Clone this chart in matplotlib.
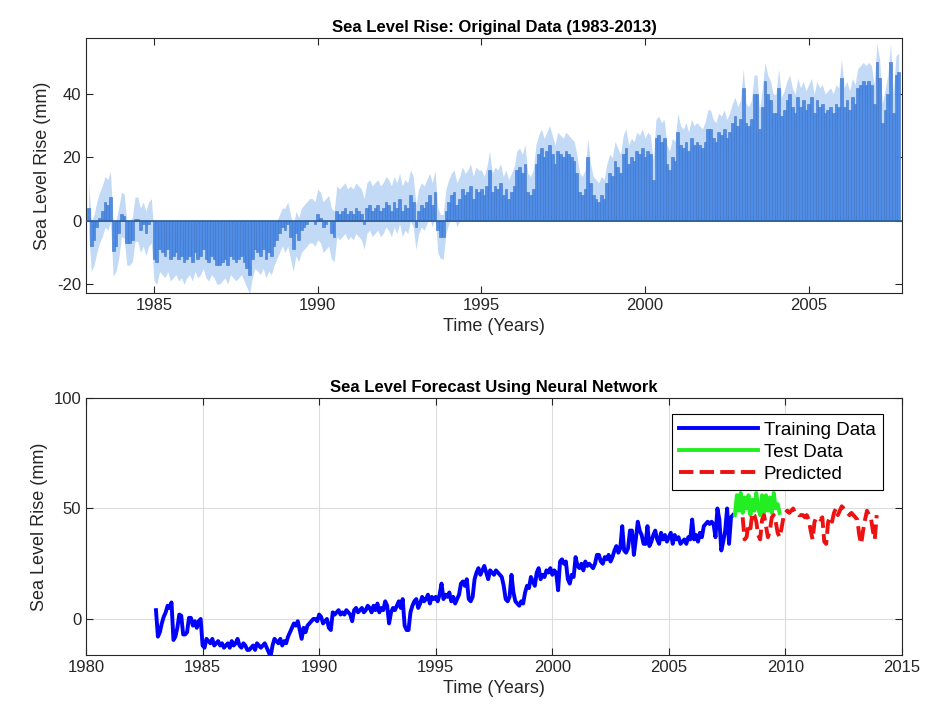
import numpy as np
import matplotlib
matplotlib.use('Agg')
import matplotlib.pyplot as plt

plt.rcParams['font.family'] = ['Liberation Sans', 'DejaVu Sans']
plt.rcParams['axes.unicode_minus'] = False

# monthly sea level (mm), Jan 1983 .. Oct 2007
sea_1983 = [4, -8, -6, -2, 1, 3, 6, 5, 7.5, -9.5, -8, -4]
sea_1984 = [2, 1.5, -7, -7, -6, 0.5, 0.5, -3, -1, -4, -1, 0]
sea_1985 = [-12, -13, -9, -10, -11, -9, -12, -11, -10, -12, -11, -13]
sea_1986 = [-12, -11, -13, -10, -12, -11, -9, -12, -13, -11, -12, -14]
sea_1987 = [-14, -13, -12, -14, -11, -12, -13, -12, -11, -13, -15, -17]
sea_1988 = [-12, -9, -10, -11, -9, -12, -10, -11, -8, -6, -4, -2]
sea_1989 = [-3, -1, -5, -9, -4, -6, -3, -2, -1, 0, 0, -1]
sea_1990 = [2, 1, -2, -1, 0, -4, -5, 3, 2, 3, 4, 2]
sea_1991 = [3, 2, 4, 3, 2, -1, 4, 5, 3, 4, 5, 3]
sea_1992 = [4, 6, 5, 3, 6, 4, 7, 3, 5, 4, 8, 6]
sea_1993 = [-2, 3, 5, 4, 6, 8, 5, 9, -3, -5, -5, 3]
sea_1994 = [6, 8, 9, 5, 7, 10, 8, 9, 11, 7, 10, 9]
sea_1995 = [10, 8, 11, 16, 9, 11, 10, 12, 8, 10, 7, 9]
sea_1996 = [11, 16, 17, 15, 18, 9, 8, 10, 18, 21, 23, 20]
sea_1997 = [22, 24, 21, 18, 22, 21, 20, 22, 21, 20, 19, 15]
sea_1998 = [9, 8, 10, 20, 12, 8, 7, 6, 8, 7, 12, 15]
sea_1999 = [14, 19, 17, 15, 21, 23, 18, 20, 19, 22, 21, 23]
sea_2000 = [20, 22, 21, 13, 26, 27, 25, 26, 18, 16, 20, 19]
sea_2001 = [28, 24, 23, 25, 22, 26, 24, 25, 24, 23, 25, 29]
sea_2002 = [29, 26, 25, 28, 27, 29, 26, 28, 31, 33, 30, 32]
sea_2003 = [42, 31, 30, 32, 40, 40, 29, 36, 44, 40, 38, 34]
sea_2004 = [34, 42, 33, 35, 38, 40, 36, 34, 39, 36, 38, 35]
sea_2005 = [37, 39, 34, 38, 36, 37, 34, 35, 36, 34, 37, 36]
sea_2006 = [45, 36, 38, 35, 39, 37, 42, 43, 44, 43, 44, 43]
sea_2007 = [37, 50, 45, 31, 35, 40, 50, 34, 46, 47]

# uncertainty per year (mm)
err_year = [8, 7, 7, 6, 6, 6, 7, 8, 8, 8, 7, 7, 6, 6, 6, 6, 6, 6, 6, 6, 6, 6, 6, 6, 6]

# test data (monthly from Nov 2007)
test_vals = [47, 56, 49, 57, 48, 55, 50, 56, 47, 54, 49, 57,
             50, 47, 56, 48, 56, 49, 55, 48, 57, 50, 52, 48]

# network prediction (monthly from Mar 2008)
pred_vals = [46, 36, 37, 43, 41, 48, 47, 44, 38, 36,
             45, 47, 42, 37, 40, 46, 47, 44, 39, 37, 41, 46,
             48, 49, 48, 49, 50, 48, 48, 47, 47, 47, 46, 47,
             45, 40, 36, 44, 46, 46, 45, 46, 35, 34, 44, 46,
             44, 48, 50, 47, 49, 51, 50, 49, 48, 47, 48, 47,
             46, 45, 38, 34, 40, 45, 49, 47, 46, 40, 36, 47]

sea = np.array(sea_1983 + sea_1984 + sea_1985 + sea_1986 + sea_1987 + sea_1988 +
               sea_1989 + sea_1990 + sea_1991 + sea_1992 + sea_1993 + sea_1994 +
               sea_1995 + sea_1996 + sea_1997 + sea_1998 + sea_1999 + sea_2000 +
               sea_2001 + sea_2002 + sea_2003 + sea_2004 + sea_2005 + sea_2006 +
               sea_2007, dtype=float)
t = 1983 + np.arange(len(sea)) / 12
err = np.repeat(err_year, 12)[:len(sea)]

t_test = 1983 + (len(sea) + np.arange(len(test_vals))) / 12
t_pred = 2008 + 2 / 12 + np.arange(len(pred_vals)) / 12

txt = '#262626'
fig = plt.figure(figsize=(9.27, 7.24), dpi=100)

#  %%----------------------------------------- top
ax1 = fig.add_axes([0.0928, 0.5953, 0.8802, 0.3522])
ax1.fill_between(t, sea - err, sea + err, color='#c2daf6', lw=0, zorder=1)
ax1.bar(t, sea, width=1 / 12, color='#4f8ce6', edgecolor='#3e74c6', linewidth=0.4, zorder=2)
ax1.axhline(0, color='#2c5c98', lw=1.2, zorder=3)
ax1.set_xlim(1982.92, 2007.85)
ax1.set_ylim(-22.8, 57.7)
ax1.set_xticks([1985, 1990, 1995, 2000, 2005])
ax1.set_yticks([-20, 0, 20, 40])
ax1.set_title('Sea Level Rise: Original Data (1983-2013)', fontsize=12, fontweight='bold', color='black', pad=4)
ax1.set_xlabel('Time (Years)', fontsize=13, color=txt)
ax1.set_ylabel('Sea Level Rise (mm)', fontsize=13, color=txt)

#  %%----------------------------------------- bottom
ax2 = fig.add_axes([0.0928, 0.0953, 0.8802, 0.355])
ax2.plot(t, sea, color='#0000ff', lw=2.8, label='Training Data')
ax2.plot(t_test, test_vals, color='#22ee22', lw=2.8, label='Test Data')
ax2.plot(t_pred, pred_vals, color='#ee1111', lw=2.8, ls='--', label='Predicted')
ax2.set_xlim(1980, 2015)
ax2.set_ylim(-16.3, 100)
ax2.set_xticks(np.arange(1980, 2016, 5))
ax2.set_yticks([0, 50, 100])
ax2.grid(True, color='#dcdcdc', lw=0.8)
ax2.set_title('Sea Level Forecast Using Neural Network', fontsize=12, fontweight='bold', color='black', pad=4)
ax2.set_xlabel('Time (Years)', fontsize=13, color=txt)
ax2.set_ylabel('Sea Level Rise (mm)', fontsize=13, color=txt)
leg = ax2.legend(loc='upper right', fontsize=13.5, fancybox=False, framealpha=1,
                 edgecolor='black', handlelength=4.2, borderaxespad=0.8,
                 handletextpad=0.3, labelspacing=0.25, borderpad=0.4,
                 bbox_to_anchor=(0.995, 0.995))
leg.get_frame().set_linewidth(0.8)

for ax in (ax1, ax2):
    ax.tick_params(direction='in', top=True, right=True, labelsize=12, colors=txt, length=5)
    for s in ax.spines.values():
        s.set_color('#262626')
        s.set_linewidth(0.8)

plt.savefig('out.png', dpi=100)
